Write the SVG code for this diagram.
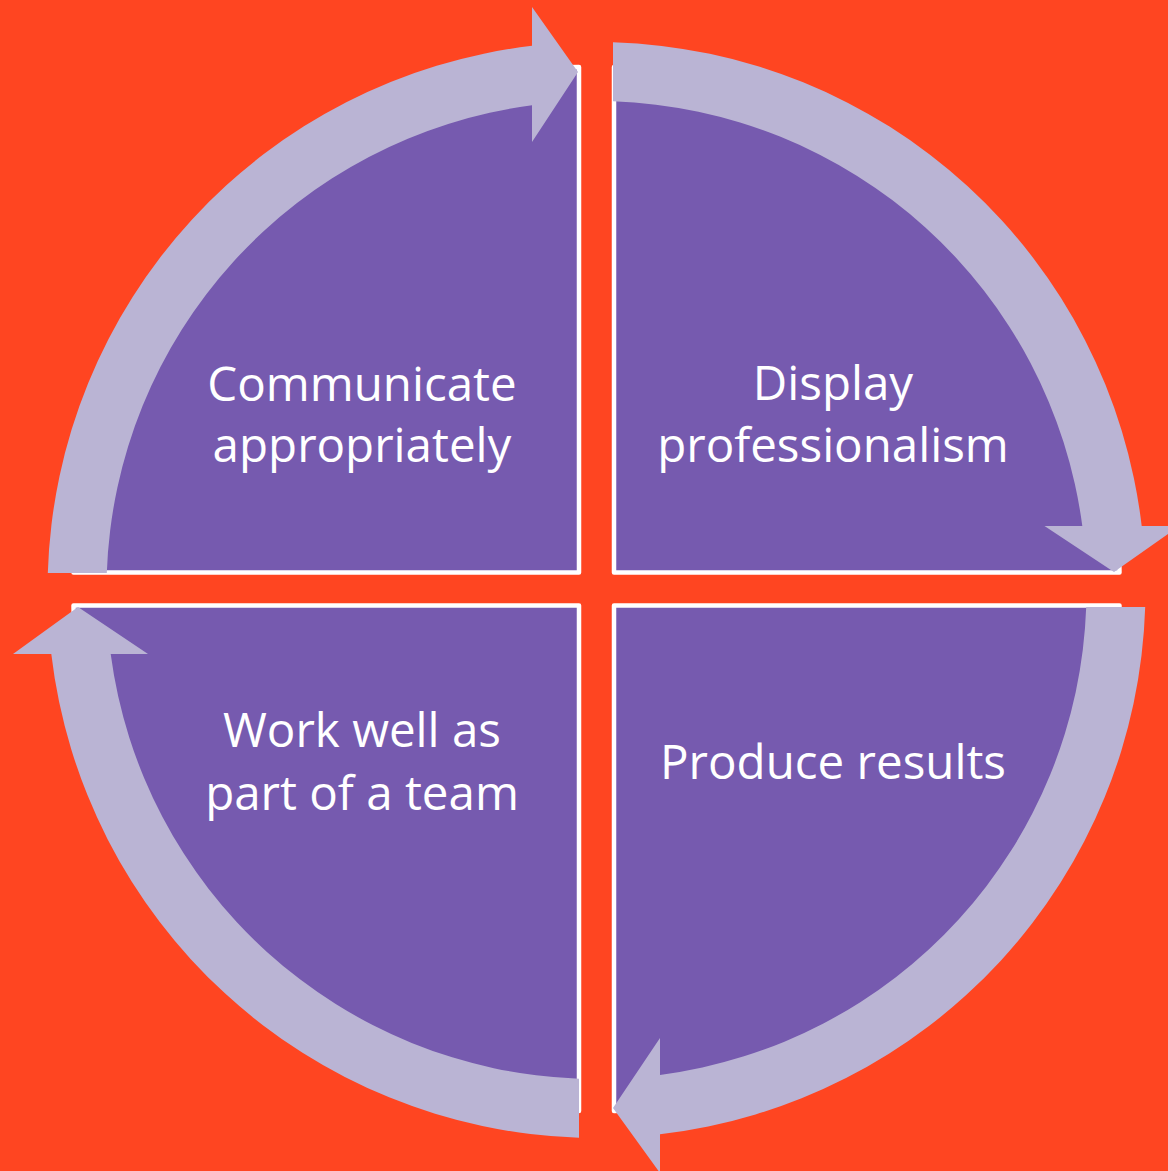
<svg xmlns="http://www.w3.org/2000/svg" width="1168" height="1171" viewBox="0 0 1168 1171">
<style>
.bg{fill:#FF4521}
.quad{fill:#765AAF;stroke:#FFFFFF;stroke-width:4.5;stroke-linejoin:round}
.arrow{fill:#BAB4D4;stroke:none}
.lbl{font-family:"Open Sans","Noto Sans",sans-serif;font-size:47.5px;fill:#FFFFFF;text-anchor:middle}
</style>
<rect class="bg" x="0" y="0" width="1168" height="1171"/>
<g id="node-communicate">
<path class="quad" d="M579,572.5 L73.5,572.5 A505.5 505.5 0 0 1 579,67 Z"/>
</g>
<g id="node-display">
<path class="quad" d="M614,572.5 L614,67 A505.5 505.5 0 0 1 1119.5,572.5 Z"/>
</g>
<g id="node-produce">
<path class="quad" d="M614,605.5 L1119.5,605.5 A505.5 505.5 0 0 1 614,1111 Z"/>
</g>
<g id="node-team">
<path class="quad" d="M579,605.5 L579,1111 A505.5 505.5 0 0 1 73.5,605.5 Z"/>
</g>
<g id="connectors">
<path class="arrow" d="M47.8,573 A549 548 0 0 1 532,45.8 L532,7 L578,72 L532,142 L532,105.3 A490 489 0 0 0 106.8,573 Z"/>
<path class="arrow" d="M613,42.25 A549 548 0 0 1 1141.7,526 L1179.5,526 L1114,572 L1044.5,526 L1082.3,526 A490 489 0 0 0 613,101.3 Z"/>
<path class="arrow" d="M1145.2,607 A549 548 0 0 1 660,1134.3 L660,1173 L613,1108 L660,1038 L660,1074.9 A490 489 0 0 0 1086.2,607 Z"/>
<path class="arrow" d="M579,1137.7 A549 548 0 0 1 51.3,654 L13,654 L78,607 L148,654 L110.7,654 A490 489 0 0 0 579,1078.7 Z"/>
</g>
<g id="labels">
<text class="lbl" x="362" y="401">Communicate</text>
<text class="lbl" x="362" y="462">appropriately</text>
<text class="lbl" x="833" y="400">Display</text>
<text class="lbl" x="833" y="462">professionalism</text>
<text class="lbl" x="362" y="747">Work well as</text>
<text class="lbl" x="362" y="810">part of a team</text>
<text class="lbl" x="833" y="779">Produce results</text>
</g>
</svg>
